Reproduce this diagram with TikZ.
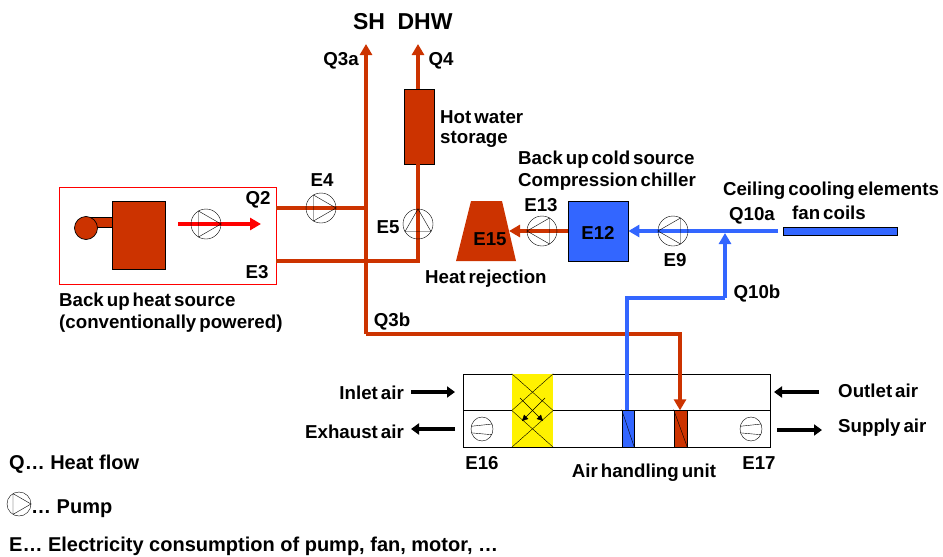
\documentclass[tikz,border=0pt]{standalone}
\usepackage{fontspec}
\setmainfont{Liberation Sans}
\usetikzlibrary{arrows.meta}
\usetikzlibrary{shapes.geometric}

\definecolor{heat}{HTML}{CC3300}
\definecolor{cold}{HTML}{3366FF}
\newcommand{\labfont}{\bfseries\fontsize{18.7}{21}\selectfont\spaceskip=0.16em\relax}

\begin{document}
\begin{tikzpicture}[
  x=1pt,y=-1pt,
  pump/.style = {circle,draw,minimum size=30pt,inner sep=0pt},
  heatflow/.style = {draw=heat,line width=4pt},
  coldflow/.style = {draw=cold,line width=4pt},
  bigtip/.style = {-{Triangle[length=11pt,width=12pt]}},
  airflow/.style = {line width=3.2pt,-{Triangle[length=8pt,width=11pt]}},
  lab/.style = {font=\labfont,inner sep=0pt,yshift=-1.5pt},
  leg/.style = {font=\bfseries\fontsize{20}{22}\selectfont,inner sep=0pt,yshift=-1.5pt},
  toplab/.style = {font=\bfseries\fontsize{23}{25}\selectfont,inner sep=0pt},
  box/.style = {draw=black,line width=0.7pt,inner sep=0pt},
  fan/.style = {draw,ellipse,minimum width=22pt,minimum height=24pt,inner sep=0pt},
  ]
\useasboundingbox (0,0) rectangle (943,557);

% back up heat source
\node[draw=red,line width=0.7pt,minimum width=217pt,minimum height=97pt,inner sep=0pt] (source) at (167.5,235.5) {};
\path[box,fill=heat] (86,217) rectangle (112,227);
\node[box,fill=heat,circle,minimum size=23pt] (burner) at (86,228) {};
\node[box,fill=heat,minimum width=53pt,minimum height=68pt] (boiler) at (138.5,235) {};

% storage, heat rejection, chiller
\node[box,fill=heat,minimum width=30pt,minimum height=75pt] (storage) at (419,126.5) {};
\node[box,fill=cold,minimum width=60pt,minimum height=60pt] (chiller) at (598,231) {};
\path[fill=heat] (471,201) -- (502,201) -- (516,261) -- (456,261) -- cycle;
\node[box,fill=cold,minimum width=114pt,minimum height=8pt] (ceiling) at (840,231) {};

% air handling unit
\node[box,fill=white,minimum width=307pt,minimum height=36pt] (ahuup) at (616.5,392) {};
\node[box,fill=white,minimum width=307pt,minimum height=37pt] (ahulow) at (616.5,428.5) {};
\node[fill=yellow,minimum width=41pt,minimum height=73pt,inner sep=0pt] (wheel) at (532.5,410.5) {};
\draw (wheel.north west) -- (wheel.east);
\draw (wheel.north east) -- (wheel.west);
\draw (wheel.south west) -- (wheel.east);
\draw (wheel.south east) -- (wheel.west);
\draw[-{Triangle[length=6pt,width=6pt]}] (520,398) -- (543,421);
\draw[-{Triangle[length=6pt,width=6pt]}] (545,398) -- (522,421);
\node[box,fill=cold,minimum width=12pt,minimum height=37pt] (coilcold) at (628,428.5) {};
\node[box,fill=heat,minimum width=13pt,minimum height=37pt] (coilheat) at (680.5,428.5) {};
\draw (coilcold.north west) -- (coilcold.south east);
\draw (coilheat.north west) -- (coilheat.south east);
\node[fan] (fanex) at (482,429) {};
\node[fan] (fansu) at (751,429) {};
\foreach \f in {fanex,fansu}{
  \draw (\f.166) -- (\f.26);
  \draw (\f.200) -- (\f.330);
}
\coordinate (inleta) at (411,392);
\coordinate (inletb) at (455,392);
\coordinate (outa) at (819,392);
\coordinate (outb) at (774,392);
\coordinate (exa) at (455,429);
\coordinate (exb) at (411,429);
\coordinate (supa) at (777,430);
\coordinate (supb) at (822,430);
\draw[airflow] (inleta) -- (inletb);
\draw[airflow] (outa) -- (outb);
\draw[airflow] (exa) -- (exb);
\draw[airflow] (supa) -- (supb);

% heat flows
\coordinate (sh) at (366,44);
\coordinate (dhw) at (418,44);
\coordinate (j3) at (366,334);
\coordinate (j4) at (680,334);
\coordinate (q2) at (276,208);
\coordinate (e3) at (276,261);
\coordinate (j5) at (418,261);
\coordinate (rej) at (509,231);
\draw[heatflow,bigtip] (j3) -- (sh);
\draw[heatflow,bigtip] (j3) -- (j4) -- (ahuup.south -| j4);
\draw[heatflow] (q2) -- (q2 -| sh);
\draw[heatflow] (e3) -- (j5) -- (storage.south -| j5);
\draw[heatflow,bigtip,line width=3.2pt] (storage.north -| dhw) -- (dhw);
\draw[heatflow,bigtip,line width=3.2pt] (chiller.west) -- (rej);
\coordinate (srca) at (178,224);
\coordinate (srcb) at (261,224);
\draw[red,line width=4pt,bigtip] (srca) -- (srcb);

% cold flows
\coordinate (j1) at (725,233);
\coordinate (j2) at (725,298);
\coordinate (j6) at (627,298);
\coordinate (j7) at (778,231);
\draw[coldflow,bigtip] (j7) -- (chiller.east);
\draw[coldflow,bigtip] (j2) -- (j1);
\draw[coldflow] (j2) -- (j6) -- (ahuup.south -| j6);

% pumps
\foreach \n/\x/\y/\a in {pa/206/224/0,pb/321/208/0,pc/418/224/90,pd/542/231/180,pe/673/231/180}{
  \node[pump] (\n) at (\x,\y) {};
  \draw ([shift={(\a:15pt)}]\n.center) -- ([shift={(\a+120:15pt)}]\n.center) -- ([shift={(\a+240:15pt)}]\n.center) -- cycle;
}
\node[pump,minimum size=24pt] (pleg) at (19,504) {};
\draw ([shift={(0:12pt)}]pleg.center) -- ([shift={(120:12pt)}]pleg.center) -- ([shift={(240:12pt)}]pleg.center) -- cycle;

% labels
\node[toplab] (lsh) at (369,22) {SH};
\node[toplab] (ldhw) at (425,22) {DHW};
\node[lab] (lqa) at (341,59) {Q3a};
\node[lab] (lqb) at (441,59) {Q4};
\node[lab,anchor=west] (lhot) at (440,116) {Hot water};
\node[lab,anchor=west] (lsto) at (440,138) {storage};
\node[lab] (le4) at (322,179) {E4};
\node[lab] (lq2) at (258,198) {Q2};
\node[lab] (le3) at (257,271) {E3};
\node[lab] (le5) at (388,226) {E5};
\node[lab] (le13) at (541,204) {E13};
\node[lab] (le12) at (598,231) {E12};
\node[lab] (le15) at (490,238) {E15};
\node[lab] (le9) at (675,259) {E9};
\node[lab,anchor=west] (lcold) at (518,158) {Back up cold source};
\node[lab,anchor=west] (lcomp) at (518,180) {Compression chiller};
\node[lab] (lceil) at (831,189) {Ceiling cooling elements};
\node[lab] (lfan) at (829,211) {fan coils};
\node[lab] (lq10a) at (752,214) {Q10a};
\node[lab] (lq10b) at (757,292) {Q10b};
\node[lab,anchor=west] (lrej) at (425,277) {Heat rejection};
\node[lab,anchor=west] (lback) at (59,300) {Back up heat source};
\node[lab,anchor=west] (lconv) at (59,322) {(conventionally powered)};
\node[lab] (lq3b) at (392,320) {Q3b};
\node[lab,anchor=east] (lin) at (404,391) {Inlet air};
\node[lab,anchor=west] (lout) at (838,389) {Outlet air};
\node[lab,anchor=east] (lex) at (404,430) {Exhaust air};
\node[lab,anchor=west] (lsup) at (838,426) {Supply air};
\node[lab] (le16) at (482,462) {E16};
\node[lab] (le17) at (759,462) {E17};
\node[lab] (lahu) at (644,471) {Air handling unit};
\node[leg,anchor=west] (lega) at (9,463) {Q… Heat flow};
\node[leg,anchor=west] (legb) at (31,507) {… Pump};
\node[leg,anchor=west] (legc) at (9,545) {E… Electricity consumption of pump, fan, motor, …};
\end{tikzpicture}
\end{document}
